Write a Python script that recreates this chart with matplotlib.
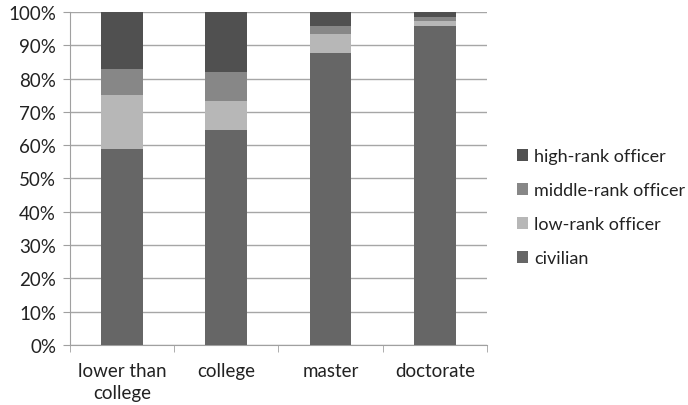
import matplotlib.pyplot as plt
import numpy as np

plt.rcParams['font.family'] = ['Lato', 'DejaVu Sans']

# share of each rank within education level (%)
levels = ['lower than\ncollege', 'college', 'master', 'doctorate']
civilian = [58.9, 64.5, 87.7, 95.9]
low_rank = [16.1, 8.9, 5.7, 1.4]
middle_rank = [8.0, 8.6, 2.5, 1.2]
high_rank = [17.0, 18.0, 4.1, 1.5]

series = [
    ('civilian', civilian, '#666666'),
    ('low-rank officer', low_rank, '#b7b7b7'),
    ('middle-rank officer', middle_rank, '#878787'),
    ('high-rank officer', high_rank, '#505050'),
]

fig = plt.figure(figsize=(6.88, 4.06), dpi=100)
ax = fig.add_axes([0.1017, 0.148, 0.606, 0.82])

x = np.arange(len(levels))
bottom = np.zeros(len(levels))
handles = []
for name, vals, col in series:
    b = ax.bar(x, vals, 0.4, bottom=bottom, color=col, label=name, zorder=3)
    handles.append(b)
    bottom += np.array(vals)

ax.set_xlim(-0.5, len(levels) - 0.5)
ax.set_ylim(0, 100)
ax.set_yticks(np.arange(0, 101, 10))
ax.set_yticklabels([f'{v}%' for v in range(0, 101, 10)])
ax.set_xticks(x)
ax.set_xticklabels(levels, linespacing=1.4)
ax.set_xticks(np.arange(-0.5, len(levels), 1), minor=True)
ax.tick_params(axis='x', which='major', length=0, pad=12)
ax.tick_params(axis='x', which='minor', length=5, color='#a0a0a0')
ax.tick_params(axis='y', length=5, color='#a0a0a0', pad=5)
ax.tick_params(labelsize=13.5, labelcolor='#222222')

ax.grid(axis='y', color='#a6a6a6', linewidth=1, zorder=0)
for s in ['top', 'right']:
    ax.spines[s].set_visible(False)
for s in ['left', 'bottom']:
    ax.spines[s].set_color('#a0a0a0')

fig.legend(handles[::-1], [h.get_label() for h in handles[::-1]],
           loc='center left', bbox_to_anchor=(0.728, 0.487), frameon=False,
           fontsize=13, handlelength=0.6, handleheight=0.6,
           handletextpad=0.35, labelspacing=1.0, labelcolor='#222222')

fig.savefig('out.png', dpi=100)
